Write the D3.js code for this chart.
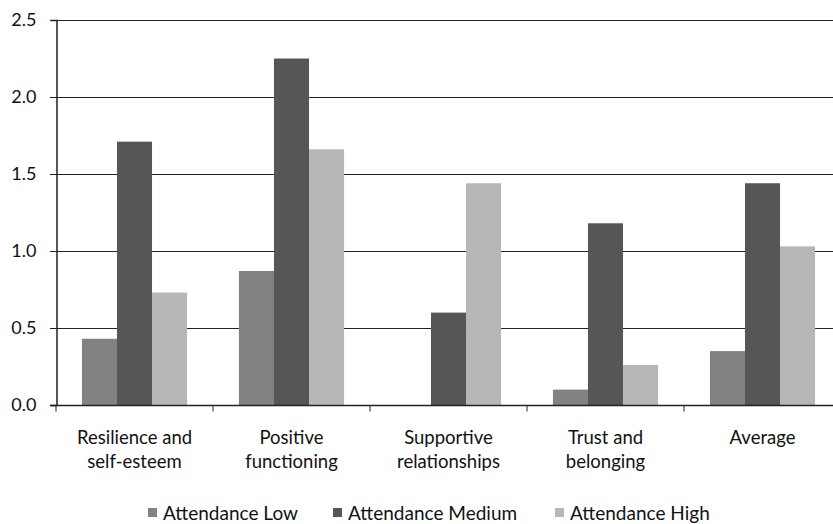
<!DOCTYPE html>
<html lang="en">
<head>
    <meta charset="UTF-8">
    <title>Attendance bar chart</title>
    <script src="https://d3js.org/d3.v7.min.js"></script>
    <style>
        body { margin: 0; background: #fff; }
        text { font-family: Lato, "Open Sans", sans-serif; fill: #111; }
    </style>
</head>
<body>
    <svg id="chart"></svg>

    <script>
        // Data
        const categories = [
            ["Resilience and", "self-esteem"],
            ["Positive", "functioning"],
            ["Supportive", "relationships"],
            ["Trust and", "belonging"],
            ["Average"]
        ];
        const seriesNames = ["Attendance Low", "Attendance Medium", "Attendance High"];
        const attendanceLow = [0.43, 0.87, 0.0, 0.10, 0.35];
        const attendanceMedium = [1.71, 2.25, 0.60, 1.18, 1.44];
        const attendanceHigh = [0.73, 1.66, 1.44, 0.26, 1.03];
        const yTicks = [0, 0.5, 1.0, 1.5, 2.0, 2.5];

        const colors = ["#828282", "#565656", "#b7b7b7"];
        const series = [attendanceLow, attendanceMedium, attendanceHigh];

        const width = 833, height = 524;
        const svg = d3.select("#chart")
            .attr("width", width)
            .attr("height", height);

        // plot area (the last band runs past the right edge, like the cropped original)
        const x0 = d3.scaleBand()
            .domain(d3.range(categories.length))
            .range([56, 56 + 157 * categories.length])
            .paddingInner(0)
            .paddingOuter(0);

        const x1 = d3.scaleBand()
            .domain(d3.range(series.length))
            .range([0, x0.bandwidth()])
            .paddingInner(0)
            .paddingOuter(0.74);

        const y = d3.scaleLinear()
            .domain([0, 2.5])
            .range([405, 20]);

        // gridlines
        svg.append("g")
            .selectAll("line")
            .data(yTicks.slice(1))
            .join("line")
            .attr("x1", 50)
            .attr("x2", width)
            .attr("y1", d => Math.round(y(d)) + 0.5)
            .attr("y2", d => Math.round(y(d)) + 0.5)
            .attr("stroke", "#222")
            .attr("stroke-width", 1.2);

        // bars
        const groups = svg.append("g")
            .selectAll("g")
            .data(categories.map((c, i) => i))
            .join("g")
            .attr("transform", i => `translate(${x0(i)},0)`);

        groups.selectAll("rect")
            .data(i => series.map((s, k) => ({ k, v: s[i] })))
            .join("rect")
            .attr("x", d => x1(d.k))
            .attr("width", x1.bandwidth())
            .attr("y", d => y(d.v))
            .attr("height", d => y(0) - y(d.v))
            .attr("fill", d => colors[d.k]);

        // y axis
        const yAxis = svg.append("g")
            .attr("transform", "translate(56.5,0)")
            .call(d3.axisLeft(y).tickValues(yTicks).tickFormat(d3.format(".1f")).tickSize(6).tickPadding(14));
        yAxis.select(".domain").attr("stroke", "#222").attr("stroke-width", 1.5);
        yAxis.selectAll(".tick line").attr("stroke", "#222");
        yAxis.selectAll(".tick text").style("font-size", "18px").attr("fill", "#111");

        // x axis
        const xAxisG = svg.append("g").attr("transform", `translate(0,${y(0) + 0.5})`);
        xAxisG.append("line")
            .attr("x1", 50).attr("x2", width)
            .attr("stroke", "#222").attr("stroke-width", 1.5);
        xAxisG.selectAll("line.tick")
            .data(d3.range(categories.length + 1))
            .join("line")
            .attr("class", "tick")
            .attr("x1", i => i < categories.length ? x0(i) : x0(i - 1) + x0.bandwidth())
            .attr("x2", i => i < categories.length ? x0(i) : x0(i - 1) + x0.bandwidth())
            .attr("y1", 0).attr("y2", 6)
            .attr("stroke", "#222");

        const labels = svg.append("g")
            .selectAll("text")
            .data(categories.map((c, i) => ({ c, i })))
            .join("text")
            .attr("x", d => x0(d.i) + x0.bandwidth() / 2)
            .attr("y", 444)
            .attr("text-anchor", "middle")
            .style("font-size", "18.5px");
        labels.selectAll("tspan")
            .data(d => d.c.map((line, j) => ({ line, j, x: x0(d.i) + x0.bandwidth() / 2 })))
            .join("tspan")
            .attr("x", d => d.x)
            .attr("dy", d => d.j === 0 ? 0 : 24)
            .text(d => d.line);

        // legend
        const legendX = [148, 333, 555];
        const legend = svg.append("g")
            .selectAll("g")
            .data(seriesNames.map((n, k) => ({ n, k })))
            .join("g")
            .attr("transform", d => `translate(${legendX[d.k]},513)`);
        legend.append("rect")
            .attr("x", 0).attr("y", -5)
            .attr("width", 9).attr("height", 9)
            .attr("fill", d => colors[d.k]);
        legend.append("text")
            .attr("x", 15)
            .attr("dy", "0.36em")
            .style("font-size", "19px")
            .text(d => d.n);
    </script>
</body>
</html>
